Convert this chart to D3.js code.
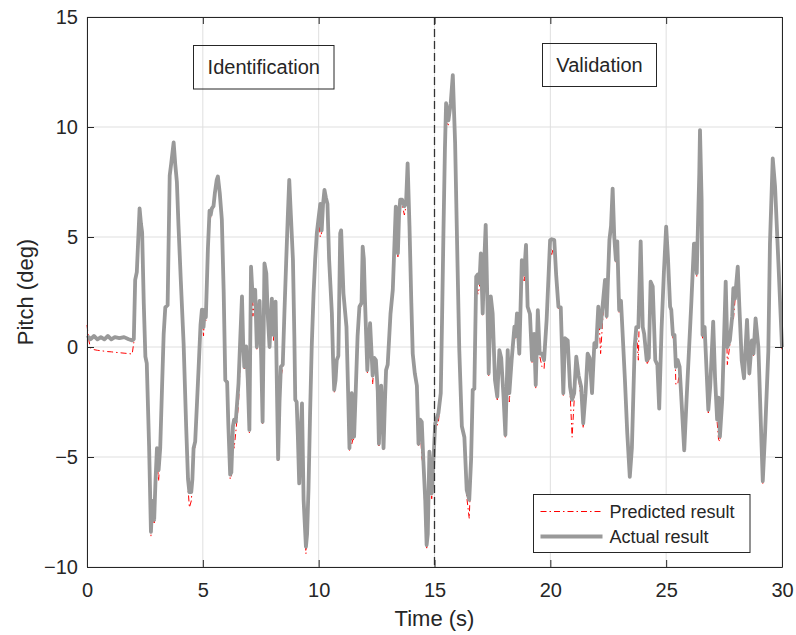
<!DOCTYPE html>
<html>
<head>
<meta charset="utf-8">
<title>Pitch: identification and validation</title>
<script src="https://cdn.jsdelivr.net/npm/d3@7"></script>
<style>
  body { margin: 0; background: #fff; }
  text { font-family: "Liberation Sans", Arial, sans-serif; fill: #262626; }
</style>
</head>
<body>
<script>
// time (s)
var time = [
  0.00,0.08,0.15,0.30,0.45,0.60,0.75,0.90,1.05,1.20,
  1.40,1.60,1.80,1.95,2.02,2.08,2.15,2.27,2.33,2.38,
  2.45,2.52,2.58,2.68,2.76,2.82,2.86,2.90,2.96,3.02,
  3.09,3.16,3.24,3.31,3.38,3.48,3.57,3.63,3.74,3.81,
  3.88,3.95,4.05,4.17,4.28,4.36,4.42,4.50,4.55,4.60,
  4.67,4.75,4.82,4.90,4.96,5.03,5.08,5.13,5.22,5.29,
  5.34,5.39,5.46,5.52,5.60,5.65,5.73,5.82,5.90,5.97,
  6.05,6.10,6.18,6.23,6.30,6.35,6.42,6.54,6.62,6.69,
  6.74,6.79,6.87,6.94,7.01,7.08,7.16,7.26,7.33,7.45,
  7.52,7.58,7.66,7.74,7.80,7.88,7.98,8.05,8.14,8.20,
  8.25,8.31,8.37,8.45,8.52,8.60,8.67,8.73,8.80,8.89,
  8.95,8.99,9.05,9.10,9.16,9.22,9.28,9.35,9.45,9.50,
  9.56,9.63,9.70,9.78,9.85,9.92,10.00,10.07,10.13,10.19,
  10.25,10.31,10.38,10.45,10.57,10.62,10.67,10.73,10.78,10.85,
  10.93,10.97,11.07,11.20,11.27,11.33,11.38,11.43,11.48,11.53,
  11.60,11.68,11.76,11.85,11.90,11.95,12.00,12.10,12.16,12.22,
  12.33,12.40,12.47,12.55,12.60,12.66,12.70,12.75,12.80,12.86,
  12.91,12.98,13.10,13.20,13.33,13.38,13.42,13.47,13.52,13.60,
  13.70,13.77,13.84,13.92,14.00,14.06,14.15,14.24,14.31,14.38,
  14.45,14.52,14.60,14.66,14.71,14.78,14.88,14.97,15.03,15.17,
  15.27,15.33,15.39,15.45,15.50,15.60,15.70,15.79,15.89,15.99,
  16.07,16.18,16.29,16.39,16.50,16.58,16.65,16.72,16.80,16.87,
  16.94,17.00,17.08,17.15,17.21,17.29,17.34,17.43,17.51,17.61,
  17.71,17.80,17.88,17.98,18.06,18.16,18.23,18.33,18.45,18.50,
  18.56,18.66,18.77,18.87,18.95,19.02,19.12,19.21,19.30,19.37,
  19.46,19.54,19.64,19.73,19.84,19.99,20.06,20.17,20.25,20.35,
  20.45,20.56,20.63,20.75,20.85,20.94,21.03,21.12,21.22,21.33,
  21.42,21.52,21.61,21.70,21.80,21.90,21.98,22.07,22.12,22.17,
  22.36,22.43,22.55,22.62,22.69,22.76,22.83,22.89,22.97,23.05,
  23.22,23.32,23.43,23.52,23.64,23.71,23.80,23.90,23.99,24.05,
  24.16,24.25,24.33,24.42,24.53,24.62,24.70,24.80,24.90,25.00,
  25.08,25.17,25.22,25.29,25.36,25.42,25.50,25.58,25.78,25.88,
  26.09,26.20,26.26,26.32,26.43,26.46,26.53,26.57,26.62,26.66,
  26.82,26.90,27.03,27.11,27.20,27.26,27.32,27.42,27.57,27.64,
  27.75,27.85,27.90,27.97,28.09,28.16,28.26,28.36,28.49,28.59,
  28.70,28.77,28.86,28.98,29.12,29.17,29.27,29.41,29.48,29.60,
  29.70,29.84,30.00
];

// actual pitch (deg)
var actual = [
  0.40,0.45,0.35,0.50,0.35,0.45,0.35,0.50,0.35,0.45,
  0.40,0.45,0.35,0.30,0.35,3.05,3.40,6.30,5.60,5.20,
  2.00,-0.44,-0.74,-4.50,-8.40,-7.00,-7.20,-7.86,-6.00,-4.60,
  -5.60,-4.60,-1.80,0.60,1.80,1.90,7.80,8.30,9.30,8.30,
  7.50,5.50,3.00,0.17,-3.60,-6.00,-6.60,-6.60,-6.00,-4.60,
  -4.30,-2.50,-0.90,1.00,1.70,0.90,1.70,1.35,4.50,6.20,
  6.00,6.30,6.40,7.00,7.60,7.75,7.00,5.80,2.50,-1.50,
  -1.60,-3.50,-5.80,-5.70,-3.60,-3.30,-3.40,-1.65,0.50,2.30,
  0.20,-0.90,0.03,-1.50,-3.77,3.65,2.10,2.60,0.00,2.10,
  -0.50,-3.40,3.80,3.35,1.50,0.00,2.20,0.55,2.06,-2.00,
  -5.10,-2.50,-0.90,-0.80,1.50,3.95,6.00,7.60,6.00,3.95,
  0.50,-2.40,-2.50,-4.00,-6.20,-4.00,-2.56,-6.95,-9.08,-8.50,
  -6.50,-3.00,0.00,2.44,4.00,5.17,5.90,6.50,5.30,6.50,
  7.14,6.80,6.50,4.00,1.53,-0.50,-1.95,-1.50,-0.60,-0.40,
  5.17,5.30,2.44,0.92,-2.00,-4.60,-2.30,-2.10,-4.10,-4.07,
  -2.00,0.50,1.83,2.00,4.56,4.00,2.10,-1.05,0.20,1.08,
  -1.30,-0.50,-0.60,-2.00,-4.40,-2.50,-1.76,-3.00,-4.60,-2.50,
  -1.05,-0.80,1.50,2.60,6.38,5.50,4.26,6.00,6.70,6.70,
  6.40,6.50,8.35,5.50,2.00,-0.30,-1.20,-1.76,-4.40,-3.30,
  -3.40,-5.20,-6.95,-9.00,-8.50,-4.76,-6.65,-4.80,-3.47,-3.00,
  -2.10,1.50,5.47,9.00,11.08,10.30,11.08,12.36,9.26,3.95,
  -0.14,-3.60,-4.10,-6.50,-6.95,-5.10,-1.95,-1.90,3.20,3.30,
  2.90,4.26,1.53,3.95,5.55,1.68,-1.20,2.30,1.53,-1.50,
  -2.26,-0.14,-0.50,-2.26,-4.00,-0.14,-2.10,-0.60,0.92,0.50,
  1.53,-0.30,3.95,3.30,4.64,1.83,1.50,-0.60,0.60,-1.73,
  1.68,-0.30,-0.30,-0.60,1.23,4.86,4.90,4.86,3.30,1.83,
  1.80,-2.10,0.40,0.30,-1.80,-2.40,-2.10,-0.44,-1.30,-1.80,
  -3.47,-2.10,-0.30,-0.50,-2.10,0.17,0.00,1.83,1.00,0.90,
  3.05,1.40,4.86,5.50,7.20,5.00,3.95,4.80,1.68,2.10,
  -1.50,-3.90,-5.90,-4.60,0.00,0.90,0.90,4.80,0.90,0.60,
  -0.60,-0.50,2.97,2.75,-0.60,-0.80,-2.80,0.77,3.35,5.47,
  4.00,1.83,1.70,0.55,0.55,-0.90,-0.60,-0.90,-4.70,-2.40,
  2.10,4.70,4.70,3.35,7.90,9.86,6.70,0.55,0.75,0.90,
  -2.86,-1.80,1.15,-1.40,-3.30,-2.30,-4.07,-2.40,2.97,0.00,
  0.30,1.40,2.67,2.20,3.65,1.83,-0.60,-1.42,1.23,-1.20,
  0.30,-0.30,1.30,0.00,-4.53,-6.10,-3.90,-0.20,4.70,8.57,
  7.30,3.95,0.00
];

// predicted pitch (deg)
var predicted = [
  1.00,0.30,-0.05,-0.12,-0.15,-0.17,-0.19,-0.21,-0.22,-0.24,
  -0.26,-0.28,-0.30,-0.32,0.20,2.95,3.30,6.20,5.50,5.00,
  1.90,-0.50,-0.80,-4.70,-8.60,-7.20,-7.50,-8.00,-6.30,-5.00,
  -6.10,-4.90,-2.00,0.30,1.70,1.80,7.70,8.20,9.20,8.30,
  7.40,5.40,2.90,0.10,-3.70,-6.40,-7.30,-7.00,-6.30,-4.80,
  -4.50,-2.60,-1.00,0.90,1.60,0.50,1.60,1.20,4.40,5.70,
  5.90,6.20,6.30,6.90,7.50,7.70,6.90,5.70,2.40,-1.60,
  -1.70,-3.60,-6.00,-5.90,-4.20,-4.60,-3.90,-2.60,-0.50,2.00,
  0.10,-1.00,-0.10,-1.60,-3.90,3.50,1.40,2.50,-0.10,2.00,
  -0.60,-3.50,3.70,3.30,1.40,-0.10,2.10,0.30,2.00,-2.10,
  -5.20,-2.60,-1.40,-0.90,1.40,3.90,5.90,7.50,5.90,3.90,
  0.40,-2.50,-2.60,-4.10,-6.30,-4.10,-2.70,-7.10,-9.40,-8.70,
  -6.60,-3.10,-0.10,2.40,3.90,5.10,5.80,5.00,5.20,6.40,
  7.00,6.70,6.40,3.90,1.40,-0.60,-2.10,-1.60,-0.70,-0.50,
  5.10,5.20,2.40,0.80,-2.10,-4.70,-2.40,-4.40,-4.20,-4.20,
  -2.10,0.40,1.70,1.90,4.50,3.90,2.00,-1.20,0.10,1.00,
  -1.70,-0.60,-0.70,-2.10,-4.50,-2.60,-1.90,-3.10,-4.70,-2.60,
  -1.20,-0.90,1.40,2.50,6.20,4.80,4.10,5.90,6.60,6.50,
  6.00,6.40,8.20,5.40,1.90,-0.40,-1.30,-1.90,-4.50,-3.40,
  -5.00,-5.40,-8.00,-9.20,-8.70,-5.20,-6.90,-5.10,-3.80,-3.40,
  -2.20,1.40,5.40,8.80,10.20,10.10,10.90,12.20,9.20,3.90,
  -0.20,-3.70,-4.20,-6.80,-7.80,-5.30,-2.10,-2.00,3.10,2.40,
  2.70,4.10,1.40,3.90,5.40,1.50,-1.30,2.20,1.40,-1.60,
  -2.40,-0.20,-0.60,-2.40,-4.10,-0.20,-2.50,-0.70,0.80,0.40,
  1.40,-0.40,3.80,3.00,4.50,1.70,1.40,-0.70,0.50,-1.90,
  1.60,-0.40,-0.90,-1.00,1.10,4.70,4.20,4.70,3.20,1.70,
  1.70,-2.20,0.30,0.20,-2.00,-4.10,-2.40,-0.60,-1.40,-2.40,
  -3.70,-2.20,-0.40,-0.60,-2.20,0.10,-0.10,1.70,0.90,-0.30,
  2.90,1.30,4.80,5.40,7.10,4.90,3.80,4.70,1.50,1.50,
  -1.60,-4.00,-6.00,-4.70,-0.10,0.80,-0.60,4.70,0.80,0.50,
  -0.80,-0.60,2.90,2.60,-0.70,-0.90,-2.90,0.70,3.30,5.40,
  3.90,1.70,1.60,0.40,0.40,-1.70,-1.70,-1.10,-4.80,-2.50,
  2.00,4.60,4.60,3.20,7.80,9.70,6.60,0.40,0.60,0.80,
  -3.00,-1.90,1.00,-1.50,-3.40,-4.20,-4.30,-2.50,2.90,-0.80,
  0.10,1.30,1.20,2.10,3.50,1.70,-0.70,-1.50,1.10,-1.30,
  0.20,-0.40,1.20,-0.10,-4.60,-6.20,-4.00,-0.30,4.60,7.00,
  7.00,3.80,-0.10
];

var xTicks = [0, 5, 10, 15, 20, 25, 30];
var yTicks = [-10, -5, 0, 5, 10, 15];
var splitTime = 15;
var legendNames = ["Predicted result", "Actual result"];

var width = 796, height = 635;
var margin = {left: 87, top: 17, right: 14, bottom: 68};
var w = width - margin.left - margin.right;   // 695
var h = height - margin.top - margin.bottom;  // 550

var svg = d3.select("body").append("svg")
    .attr("width", width)
    .attr("height", height);

var g = svg.append("g")
    .attr("transform", "translate(" + margin.left + "," + margin.top + ")");

var x = d3.scaleLinear().domain([0, 30]).range([0, w]);
var y = d3.scaleLinear().domain([-10, 15]).range([h, 0]);

// grid
g.selectAll(".gx").data(xTicks).enter().append("line")
    .attr("x1", d => x(d)).attr("x2", d => x(d))
    .attr("y1", 0).attr("y2", h)
    .attr("stroke", "#dfdfdf").attr("stroke-width", 1);
g.selectAll(".gy").data(yTicks).enter().append("line")
    .attr("x1", 0).attr("x2", w)
    .attr("y1", d => y(d)).attr("y2", d => y(d))
    .attr("stroke", "#dfdfdf").attr("stroke-width", 1);

var line = d3.line()
    .x(d => x(d[0]))
    .y(d => y(d[1]));

var predPts = time.map((t, i) => [t, predicted[i]]);
var actPts = time.map((t, i) => [t, actual[i]]);

g.append("path")
    .datum(predPts)
    .attr("d", line)
    .attr("fill", "none")
    .attr("stroke", "#ff0000")
    .attr("stroke-width", 1)
    .attr("stroke-dasharray", "6,3,1.5,3");

g.append("path")
    .datum(actPts)
    .attr("d", line)
    .attr("fill", "none")
    .attr("stroke", "#999999")
    .attr("stroke-width", 3.8)
    .attr("stroke-linejoin", "round");

// split between identification and validation
g.append("line")
    .attr("x1", x(splitTime)).attr("x2", x(splitTime))
    .attr("y1", 0).attr("y2", h)
    .attr("stroke", "#333333")
    .attr("stroke-width", 1.3)
    .attr("stroke-dasharray", "8,4");

// axes, ticks inward, box on
var axB = d3.axisBottom(x).tickValues(xTicks).tickSize(-7).tickSizeOuter(0).tickPadding(16);
var axL = d3.axisLeft(y).tickValues(yTicks).tickSize(-7).tickSizeOuter(0).tickPadding(9);
var axT = d3.axisTop(x).tickValues(xTicks).tickSize(-7).tickSizeOuter(0).tickFormat("");
var axR = d3.axisRight(y).tickValues(yTicks).tickSize(-7).tickSizeOuter(0).tickFormat("");

function styleAxis(sel) {
  sel.selectAll("path, line").attr("stroke", "#262626").attr("stroke-width", 1);
  sel.selectAll("text").attr("fill", "#262626")
    .style("font-family", "'Liberation Sans', Arial, sans-serif")
    .style("font-size", "20px");
}

g.append("g").attr("transform", "translate(0," + h + ")").call(axB).call(styleAxis);
g.append("g").call(axL).call(styleAxis);
g.append("g").call(axT).call(styleAxis);
g.append("g").attr("transform", "translate(" + w + ",0)").call(axR).call(styleAxis);

// axis labels
svg.append("text")
    .attr("x", margin.left + w / 2).attr("y", 626)
    .attr("text-anchor", "middle")
    .style("font-size", "22px")
    .text("Time (s)");

svg.append("text")
    .attr("transform", "translate(33," + (margin.top + h / 2) + ") rotate(-90)")
    .attr("text-anchor", "middle")
    .style("font-size", "22px")
    .text("Pitch (deg)");

// text boxes
function textBox(x0, y0, bw, bh, label) {
  svg.append("rect")
      .attr("x", x0).attr("y", y0).attr("width", bw).attr("height", bh)
      .attr("fill", "none").attr("stroke", "#262626").attr("stroke-width", 1);
  svg.append("text")
      .attr("x", x0 + bw / 2).attr("y", y0 + bh / 2)
      .attr("dy", "0.35em")
      .attr("text-anchor", "middle")
      .style("font-size", "20px")
      .text(label);
}
textBox(193.5, 45.5, 140.5, 43.5, "Identification");
textBox(542.5, 43.5, 114, 43, "Validation");

// legend
var lg = svg.append("g").attr("transform", "translate(533.5,494.5)");
lg.append("rect")
    .attr("width", 216.5).attr("height", 58)
    .attr("fill", "#fff").attr("stroke", "#262626").attr("stroke-width", 1);

// predicted sample
lg.append("line")
    .attr("x1", 7).attr("x2", 69)
    .attr("y1", 17).attr("y2", 17)
    .style("stroke", "#ff0000")
    .style("stroke-width", 1.2)
    .style("stroke-dasharray", "6,3,1.5,3");
// actual sample
lg.append("line")
    .attr("x1", 7).attr("x2", 69)
    .attr("y1", 42).attr("y2", 42)
    .style("stroke", "#999999")
    .style("stroke-width", 3.8);

lg.selectAll("text.lab").data(legendNames).enter().append("text")
    .attr("x", 76).attr("y", (d, i) => 17 + i * 25).attr("dy", "0.35em")
    .style("font-size", "18px")
    .text(d => d);
</script>
</body>
</html>
